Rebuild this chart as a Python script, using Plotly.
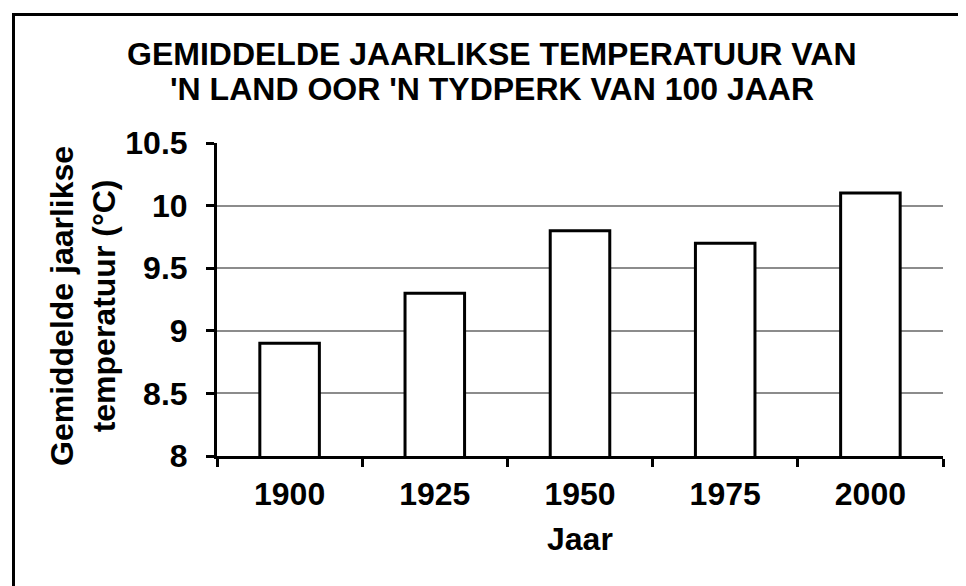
import plotly.graph_objects as go

years = ["1900", "1925", "1950", "1975", "2000"]
temps = [8.9, 9.3, 9.8, 9.7, 10.1]
y_ticks = [8, 8.5, 9, 9.5, 10, 10.5]
y_tick_labels = ["8", "8.5", "9", "9.5", "10", "10.5"]

title_line1 = "GEMIDDELDE JAARLIKSE TEMPERATUUR VAN"
title_line2 = "'N LAND OOR 'N TYDPERK VAN 100 JAAR"
y_title = "Gemiddelde jaarlikse<br>temperatuur (°C)"
x_title = "Jaar"

FONT = "Liberation Sans, Arial, sans-serif"
FS = 32

# page has an 8px body margin: work in reference-pixel coords and shift
OFF = 8
W, H = 966 - OFF, 586 - OFF
PL, PR, PT, PB = 217, 943, 143, 456  # plot area in reference pixels
L, R, T, B = PL - OFF, (966 - PR), PT - OFF, H - (PB - OFF)
pw = PR - PL
ph = PB - PT

def px_to_paper_x(px):
    return (px - PL) / pw

def py_to_paper_y(py):
    return (PB - py) / ph

fig = go.Figure(go.Bar(
    x=years, y=temps,
    marker=dict(color="white", line=dict(color="black", width=3)),
))

fig.update_layout(
    width=W, height=H,
    margin=dict(l=L, r=R, t=T, b=B, autoexpand=False),
    paper_bgcolor="white", plot_bgcolor="white",
    bargap=0.59,
    showlegend=False,
    font=dict(family=FONT, color="black", size=FS, weight="bold"),
    xaxis=dict(
        type="category", tickson="boundaries", ticks="outside", ticklen=8,
        tickwidth=3, tickcolor="black", showline=True, linewidth=3, linecolor="black",
        showgrid=False, tickfont=dict(size=FS, weight="bold"), ticklabelstandoff=8,
    ),
    yaxis=dict(
        range=[8, 10.5], tickvals=y_ticks, ticktext=y_tick_labels,
        ticks="outside", ticklen=8, tickwidth=3, tickcolor="black",
        showline=True, linewidth=3, linecolor="black",
        showgrid=True, gridcolor="#8c8c8c", gridwidth=1.5,
        tickfont=dict(size=FS, weight="bold"), ticklabelstandoff=12, zeroline=False,
    ),
    annotations=[
        dict(text=title_line1, xref="paper", yref="paper",
             x=px_to_paper_x(491.5), y=py_to_paper_y(53.5), xanchor="center", yanchor="middle",
             showarrow=False, font=dict(size=FS, weight="bold")),
        dict(text=title_line2, xref="paper", yref="paper",
             x=px_to_paper_x(491.5), y=py_to_paper_y(89.5), xanchor="center", yanchor="middle",
             showarrow=False, font=dict(size=FS, weight="bold")),
        dict(text=y_title, xref="paper", yref="paper", textangle=-90,
             x=px_to_paper_x(83), y=py_to_paper_y(306), xanchor="center", yanchor="middle",
             showarrow=False, font=dict(size=FS, weight="bold")),
        dict(text=x_title, xref="paper", yref="paper",
             x=0.5, y=py_to_paper_y(539), xanchor="center", yanchor="middle",
             showarrow=False, font=dict(size=FS, weight="bold")),
    ],
    shapes=[
        dict(type="rect", xref="paper", yref="paper",
             x0=px_to_paper_x(13.5), x1=px_to_paper_x(1010),
             y0=py_to_paper_y(650), y1=py_to_paper_y(14.5),
             line=dict(color="black", width=3), fillcolor="rgba(0,0,0,0)", layer="above"),
    ],
)

fig.write_html("out.html")
